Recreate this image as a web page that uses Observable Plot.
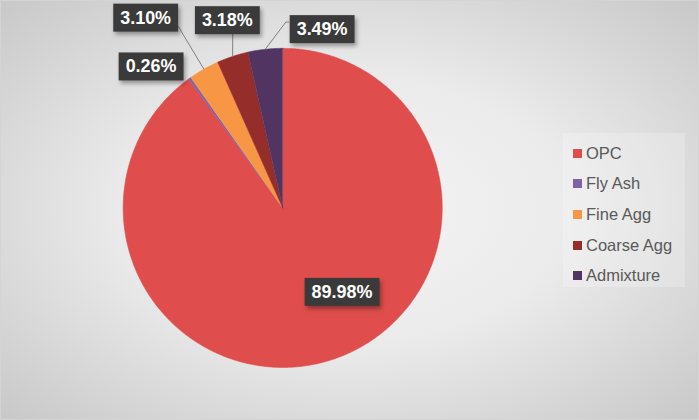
<!DOCTYPE html>
<html>
<head>
<meta charset="utf-8">
<script src="https://cdn.jsdelivr.net/npm/d3@7"></script>
<script src="https://cdn.jsdelivr.net/npm/@observablehq/plot@0.6"></script>
<style>
  html, body { margin: 0; padding: 0; }
  #chart {
    position: relative; width: 699px; height: 420px; box-sizing: border-box;
    border: 1px solid #d4d4d4;
    background: radial-gradient(ellipse at 50% 50%, #f4f4f4 0%, #ebebeb 45%, #c8c8c8 100%);
    font-family: "Liberation Sans", Arial, sans-serif; overflow: hidden;
  }
  #chart svg { position: absolute; left: -1px; top: -1px; background: transparent; }
  #legend {
    position: absolute; left: 562px; top: 132px; width: 122px; height: 154px;
    background: rgba(255,255,255,0.22); box-sizing: border-box; padding-left: 10px; padding-top: 5px;
  }
  .item { display: flex; align-items: center; height: 30.6px; font-size: 16.5px; color: #595959; }
  .sw { width: 9px; height: 9px; margin-right: 4px; flex: none; }
</style>
</head>
<body>
<div id="chart"><div id="legend"></div></div>
<script>
// ---- data ----
const categories = ["OPC", "Fly Ash", "Fine Agg", "Coarse Agg", "Admixture"];
const shares = [89.98, 0.26, 3.10, 3.18, 3.49];
const labels = ["89.98%", "0.26%", "3.10%", "3.18%", "3.49%"];
const colors = ["#df4e4c", "#8062a8", "#f79645", "#952d2b", "#523462"];

// ---- layout (label anchors in pie-radius units, leader line knees) ----
const labelPos = [
  {x: 0.372, y: -0.528, leader: false},
  {x: -0.825, y: 0.885, leader: false},
  {x: -0.859, y: 1.191, leader: true, kx: -0.656, ky: 1.14},
  {x: -0.347, y: 1.175, leader: true, kx: -0.313, ky: 1.09},
  {x: 0.247, y: 1.119, leader: true, kx: 0.02, ky: 1.165}
];

const data = categories.map((name, i) => ({name, value: shares[i], label: labels[i]}));
const arcs = d3.pie().sort(null).value(d => d.value)(data);

// polygon points for each slice (angles clockwise from 12 o'clock)
const pts = [];
arcs.forEach(a => {
  pts.push({name: a.data.name, x: 0, y: 0});
  const n = Math.max(2, Math.ceil((a.endAngle - a.startAngle) / (Math.PI / 360)));
  for (let k = 0; k <= n; k++) {
    const t = a.startAngle + (a.endAngle - a.startAngle) * k / n;
    pts.push({name: a.data.name, x: Math.sin(t), y: Math.cos(t)});
  }
});

const labelData = arcs.map((a, i) => ({text: a.data.label, ...labelPos[i], mid: (a.startAngle + a.endAngle) / 2}));
const leaders = [];
labelData.filter(d => d.leader).forEach(d => {
  leaders.push({x1: Math.sin(d.mid), y1: Math.cos(d.mid), x2: d.kx, y2: d.ky});
});
// small horizontal tail for the admixture leader
const adm = labelData[4];
leaders.push({x1: adm.kx, y1: adm.ky, x2: adm.kx + 0.02, y2: adm.ky});

const W = 699, H = 420, R = 160, CX = 283, CY = 208;
const plot = Plot.plot({
  width: W, height: H, margin: 0,
  x: {domain: [-CX / R, (W - CX) / R], axis: null},
  y: {domain: [-(H - CY) / R, CY / R], axis: null},
  color: {domain: categories, range: colors},
  style: {background: "transparent", overflow: "visible"},
  marks: [
    Plot.line(pts, {x: "x", y: "y", z: "name", fill: "name", stroke: "name", strokeWidth: 0.6}),
    Plot.link(leaders, {x1: "x1", y1: "y1", x2: "x2", y2: "y2", stroke: "#7f7f7f", strokeWidth: 1}),
    Plot.text(labelData, {x: "x", y: "y", text: "text", fill: "white", fontWeight: "bold", fontSize: 18,
      fontFamily: "Liberation Sans, Arial, sans-serif"})
  ]
});
document.getElementById("chart").appendChild(plot);

// label boxes behind texts
const ns = "http://www.w3.org/2000/svg";
const tg = plot.querySelector('g[aria-label="text"]');
if (tg) {
  for (const t of Array.from(tg.querySelectorAll("text"))) {
    const b = t.getBBox();
    const r = document.createElementNS(ns, "rect");
    const px = 7, py = 4;
    r.setAttribute("x", b.x - px);
    r.setAttribute("y", b.y - py);
    r.setAttribute("width", b.width + 2 * px);
    r.setAttribute("height", b.height + 2 * py);
    r.setAttribute("fill", "#3a3a3a");
    r.setAttribute("stroke", "none");
    r.style.filter = "drop-shadow(2px 3px 2px rgba(0,0,0,0.35))";
    const tr = t.getAttribute("transform");
    if (tr) r.setAttribute("transform", tr);
    tg.insertBefore(r, t);
  }
}

// legend
const lg = document.getElementById("legend");
categories.forEach((c, i) => {
  const it = document.createElement("div");
  it.className = "item";
  it.innerHTML = `<span class="sw" style="background:${colors[i]}"></span><span>${c}</span>`;
  lg.appendChild(it);
});
</script>
</body>
</html>
